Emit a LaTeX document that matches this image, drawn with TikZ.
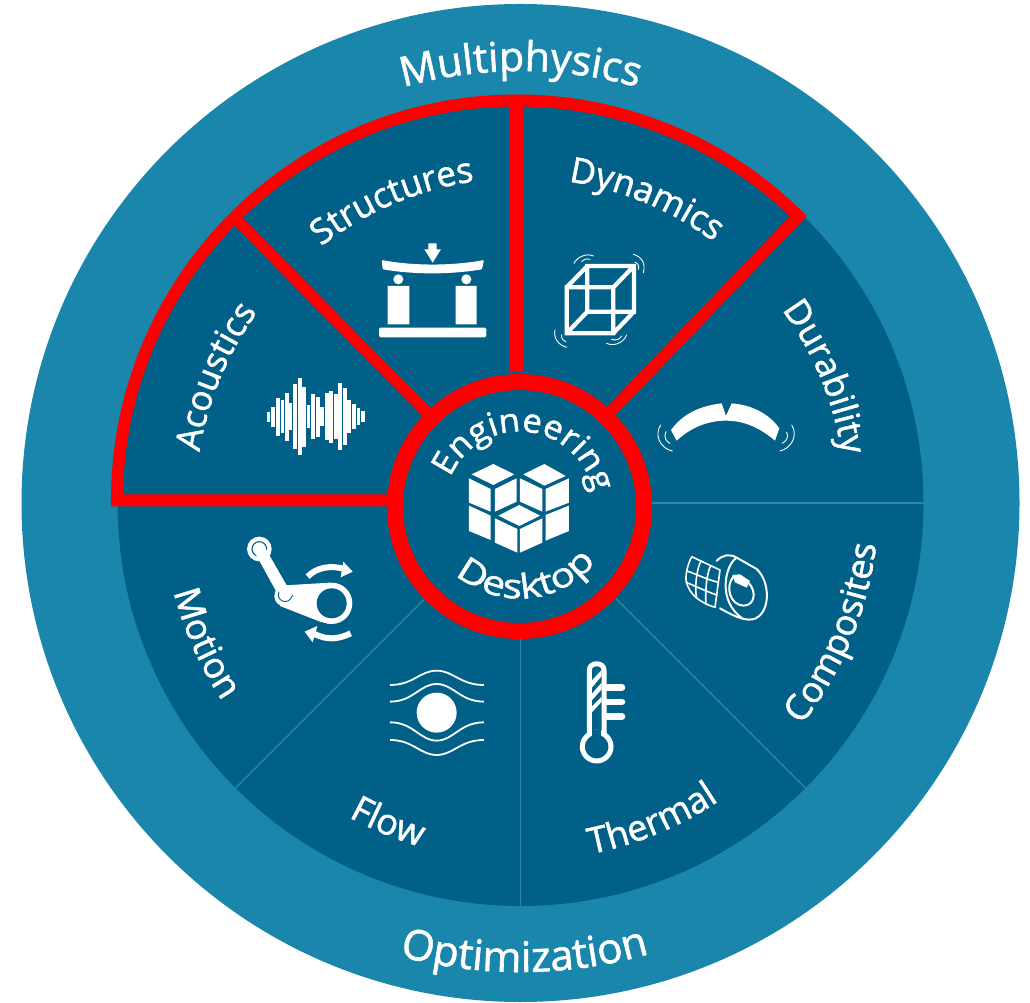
\documentclass[tikz,border=0pt]{standalone}
\usepackage{fontspec}
\setmainfont[FakeBold=1.5]{Open Sans}
\usetikzlibrary{decorations.text}
\definecolor{outerblue}{RGB}{27,134,171}
\definecolor{innerblue}{RGB}{0,96,136}
\definecolor{sepblue}{RGB}{45,135,170}
\definecolor{redline}{RGB}{255,0,0}
\newcommand{\lblx}{}
\tikzset{
  zoomed/.style 2 args={shift={(#1pt,1002pt-#2pt)},x=0.3333pt,y=-0.3333pt},
  curvedlabel/.style 2 args={decorate,decoration={text along path,text align=center,
     text={|\color{white}\fontsize{#1}{#1}\selectfont\lblx|#2}}},
  iconline/.style={draw=white,line width=#1,line cap=round,line join=round},
  iconline/.default=1pt
}
% size, text, centre coordinate, start angle, end angle, radius
\newcommand{\arclabel}[6]{\path[curvedlabel={#1}{#2},shift={(#3)}] (#4:#6) arc[start angle=#4,end angle=#5,radius=#6];}
\begin{document}
\begin{tikzpicture}[x=1pt,y=1pt]
\useasboundingbox (0,0) rectangle (1030,1002);
\fill[white] (0,0) rectangle (1030,1002);
\coordinate (c) at (520.5,499);
\coordinate (h) at (519.5,495.5);
\coordinate (d) at (519.5,501.5);
\fill[outerblue] (c) circle (499);
\fill[innerblue] (c) circle (403);
% separators
\foreach \a in {0,-45,-90,-135}
  \draw[sepblue,line width=1.2pt] (c) -- ++(\a:403);
% red outline
\draw[redline,line width=12pt,line join=miter,miter limit=10] (395,501.5) -- (117,501.5)
   arc[start angle=180,end angle=45.3,radius=400] -- (h);
\draw[redline,line width=11.5pt] (234,785) -- (h);
\draw[redline,line width=15pt] (516.5,903) -- (516.5,630);
\fill[innerblue] (h) circle (124);
\draw[redline,line width=16pt] (h) circle (124.5);
% icons
\begin{scope}[zoomed={360}{230}]
  % beam
  \fill[white] (193,58) -- (205,58) -- (205,40) -- (230,40) -- (230,58) -- (243,58) -- (218,98) -- cycle;
  \fill[white,rounded corners=1pt] (65,90) .. controls (160,108) and (275,108) .. (372,90) -- (366,118) .. controls (270,134) and (165,134) .. (68,118) -- cycle;
  \fill[white] (115,148) circle (15) (319,148) circle (15);
  \fill[white] (83,168) rectangle (148,283) (287,168) rectangle (350,283);
  \fill[white,rounded corners=1.5pt] (57,293) rectangle (379,322);
  % cube
  \draw[iconline=4.2pt,line cap=butt,line join=miter] (620,172) rectangle (760,310) (682,108) rectangle (822,245)
     (620,172) -- (682,108) (760,172) -- (822,108) (620,310) -- (682,245) (760,310) -- (822,245);
  \draw[iconline=0.9pt] (642,100) .. controls (650,82) and (680,68) .. (700,78);
  \draw[iconline=0.9pt] (665,95) .. controls (670,88) and (682,85) .. (690,88);
  \draw[iconline=0.9pt] (820,73) .. controls (845,80) and (858,100) .. (850,128);
  \draw[iconline=0.9pt] (825,97) .. controls (835,100) and (838,108) .. (835,118);
  \draw[iconline=0.9pt] (585,300) .. controls (580,325) and (595,345) .. (620,352);
  \draw[iconline=0.9pt] (605,315) .. controls (603,325) and (610,333) .. (618,336);
  \draw[iconline=0.9pt] (740,340) .. controls (760,350) and (790,340) .. (800,315);
  \draw[iconline=0.9pt] (755,328) .. controls (768,333) and (780,328) .. (785,318);
\end{scope}
\begin{scope}[zoomed={380}{370}]
  \fill[white] (275,313)--(340,282)--(403,313)--(340,345)--cycle;
  \fill[white] (430,313)--(493,282)--(557,318)--(493,347)--cycle;
  \fill[white] (267,325)--(332,357)--(332,425)--(267,398)--cycle;
  \fill[white] (345,357)--(410,325)--(410,395)--(345,425)--cycle;
  \fill[white] (420,325)--(487,357)--(487,425)--(420,395)--cycle;
  \fill[white] (497,357)--(567,325)--(567,398)--(497,425)--cycle;
  \fill[white] (355,437)--(418,405)--(480,437)--(418,468)--cycle;
  \fill[white] (267,407)--(332,437)--(332,510)--(267,483)--cycle;
  \fill[white] (345,445)--(412,477)--(412,548)--(345,518)--cycle;
  \fill[white] (420,477)--(487,445)--(487,518)--(420,548)--cycle;
  \fill[white] (497,435)--(567,407)--(567,483)--(497,512)--cycle;
\end{scope}
\begin{scope}[zoomed={230}{520}]
  % mechanism
  \fill[white] (88,87) circle (37);
  \draw[innerblue,line width=1.1pt] (88,87) circle (22);
  \fill[white] (73,95)--(103,79)--(182,217)--(150,235)--cycle;
  \fill[white] (165,228) circle (32);
  \fill[white] (165,196)--(300,188)--(300,312)--(270,305)--(150,258)--cycle;
  \fill[white] (305,250) circle (62);
  \fill[innerblue] (305,250) circle (45);
  \draw[innerblue,line width=.9pt] (147,215) .. controls (135,240) and (175,262) .. (188,225);
  \draw[iconline=6pt,line cap=butt] (233,170) .. controls (260,142) and (300,135) .. (345,147);
  \fill[white] (340,125) -- (368,155) -- (332,172) -- cycle;
  \draw[iconline=6pt,line cap=butt] (362,340) .. controls (325,358) and (290,362) .. (250,340);
  \fill[white] (224,335) -- (262,318) -- (248,367) -- cycle;
  % flow
  \fill[white] (620,578) circle (60);
  \draw[iconline=1.8pt,line cap=butt] (480,495) .. controls (550,495) and (570,452) .. (620,452) .. controls (670,452) and (690,495) .. (762,495);
  \draw[iconline=1.8pt,line cap=butt] (480,545) .. controls (550,545) and (570,492) .. (620,492) .. controls (670,492) and (690,545) .. (762,545);
  \draw[iconline=1.8pt,line cap=butt] (480,607) .. controls (550,607) and (570,662) .. (620,662) .. controls (670,662) and (690,607) .. (762,607);
  \draw[iconline=1.8pt,line cap=butt] (480,660) .. controls (550,660) and (570,705) .. (620,705) .. controls (670,705) and (690,660) .. (762,660);
\end{scope}
\begin{scope}[zoomed={560}{530}]
  % thermometer
  \draw[iconline=5pt] (88,612) -- (88,420) .. controls (88,395) and (132,395) .. (132,420) -- (132,612);
  \draw[white,line width=5pt] (110,650) circle (43);
  \fill[innerblue] (96,600) rectangle (124,640);
  \fill[white] (95,452) -- (125,420) -- (125,438) -- (95,474) -- cycle;
  \fill[white] (95,492) -- (125,458) -- (125,478) -- (95,512) -- cycle;
  \fill[white] (95,530) -- (125,500) -- (125,515) -- (95,548) -- cycle;
  \draw[iconline=6.6pt] (143,472) -- (186,472) (143,516) -- (186,516) (143,560) -- (186,560);
\end{scope}
\begin{scope}[zoomed={675}{545}]
  % composites
  \draw[iconline=2pt] (125,48) .. controls (140,30) and (165,25) .. (185,38) -- (245,72) .. controls (285,110) and (285,190) .. (250,215) .. controls (230,232) and (195,225) .. (135,190);
  \draw[iconline=2pt] (185,38) .. controls (150,60) and (125,170) .. (205,222);
  \draw[iconline=2pt] (175,95) .. controls (150,125) and (165,180) .. (205,182) .. controls (240,182) and (245,140) .. (222,115);
  \fill[white] (172,90) -- (195,88) -- (225,108) -- (215,128) -- (180,112) -- cycle;
  \draw[iconline=1.6pt] (50,35) -- (135,75) -- (120,187) .. controls (80,175) and (40,150) .. (33,105) .. controls (32,80) and (40,55) .. (50,35);
  \draw[iconline=1.6pt] (78,48) .. controls (65,70) and (58,130) .. (65,160);
  \draw[iconline=1.6pt] (107,62) .. controls (95,85) and (90,140) .. (93,178);
  \draw[iconline=1.6pt] (36,78) .. controls (70,90) and (100,105) .. (130,112);
  \draw[iconline=1.6pt] (33,112) .. controls (65,125) and (95,140) .. (126,150);
\end{scope}
\begin{scope}[zoomed={640}{380}]
  % durability
  \fill[white] (93,150) .. controls (130,100) and (180,78) .. (245,70) -- (258,108) -- (275,70) .. controls (340,75) and (390,105) .. (418,145) -- (405,182) .. controls (350,135) and (300,122) .. (258,122) .. controls (200,122) and (150,145) .. (110,182) -- cycle;
  \draw[iconline=.9pt] (62,135) .. controls (42,165) and (60,205) .. (97,213);
  \draw[iconline=.9pt] (78,155) .. controls (70,170) and (78,185) .. (90,190);
  \draw[iconline=.9pt] (455,135) .. controls (475,165) and (455,205) .. (420,213);
  \draw[iconline=.9pt] (440,157) .. controls (447,170) and (440,183) .. (427,190);
\end{scope}
\begin{scope}[zoomed={250}{370}]
  % acoustics
  \foreach \bx/\bh in {55/15,69/30,83/57,97/50,110/72,122/40,136/97,150/115,163/90,176/35,190/67,204/60,217/28,231/70,244/78,258/68,271/100,285/85,298/50,312/38,326/25,339/17}
    \fill[white] (\bx-5.5,140-\bh) rectangle (\bx+5.5,140+\bh);
\end{scope}
% texts
\arclabel{41pt}{Multiphysics}{c}{106}{74}{432}
\arclabel{42pt}{Optimization}{c}{-105.5}{-73.5}{469}
\arclabel{35pt}{Structures}{c}{137.5}{88.5}{325}
\arclabel{35pt}{Dynamics}{c}{92}{43}{325}
\arclabel{35pt}{Durability}{c}{47}{-2}{325}
\arclabel{35pt}{Acoustics}{c}{182}{133}{325}
\arclabel{36pt}{Composites}{c}{-47}{2}{358}
\arclabel{36pt}{Thermal}{c}{-92}{-43}{358}
\arclabel{36pt}{Flow}{c}{-137}{-88}{358}
\arclabel{36pt}{Motion}{c}{-180.5}{-131.5}{358}
\renewcommand{\lblx}{\addfontfeature{FakeStretch=1.05}}
\arclabel{33pt}{Engineering}{h}{184}{-16}{75}
\renewcommand{\lblx}{\addfontfeature{FakeStretch=1.2}}
\arclabel{34pt}{Desktop}{d}{-140}{-30}{98}
\end{tikzpicture}
\end{document}
